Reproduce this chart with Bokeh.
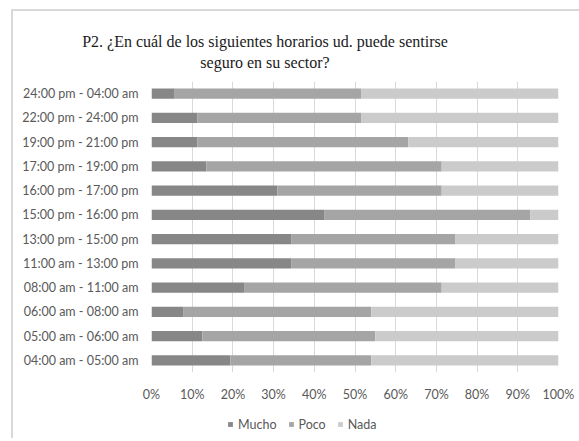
from bokeh.plotting import figure
from bokeh.layouts import column
from bokeh.models import (FactorRange, Range1d, FixedTicker, PrintfTickFormatter,
                          Legend, LegendItem, Div)
from bokeh.embed import file_html
from bokeh.resources import INLINE

# ---- data (bottom to top) ----
horarios = [
    "04:00 am - 05:00 am",
    "05:00 am - 06:00 am",
    "06:00 am - 08:00 am",
    "08:00 am - 11:00 am",
    "11:00 am - 13:00 pm",
    "13:00 pm - 15:00 pm",
    "15:00 pm - 16:00 pm",
    "16:00 pm - 17:00 pm",
    "17:00 pm - 19:00 pm",
    "19:00 pm - 21:00 pm",
    "22:00 pm - 24:00 pm",
    "24:00 pm - 04:00 am",
]
mucho = [19.4, 12.5, 7.9, 22.9, 34.3, 34.3, 42.4, 30.9, 13.5, 11.3, 11.3, 5.7]
poco = [34.6, 42.5, 46.1, 48.4, 40.4, 40.4, 50.7, 40.4, 57.8, 51.8, 40.3, 45.9]
nada = [46.0, 45.0, 46.0, 28.7, 25.3, 25.3, 6.9, 28.7, 28.7, 36.9, 48.4, 48.4]
series = ["Mucho", "Poco", "Nada"]
colors = ["#878787", "#a5a5a5", "#cbcbcb"]
x_ticks = [0, 10, 20, 30, 40, 50, 60, 70, 80, 90, 100]
title_lines = ["P2. ¿En cuál de los siguientes horarios ud. puede sentirse",
               "seguro en su sector?"]

FONT = "Lato"
GREY = "#595959"
FS = "12.5px"

# ---- title: centred two-line block ----
title_html = (
    '<div style="font-family:\'Liberation Serif\',\'Times New Roman\',serif;'
    'font-size:16px;line-height:21px;color:#1a1a1a;text-align:center;'
    'width:504px;padding-top:20px;white-space:nowrap;">'
    + title_lines[0] + "<br>" + title_lines[1] + "</div>"
)
div = Div(text=title_html, width=566, height=62, margin=(0, 0, 0, 0))

# ---- chart ----
p = figure(width=566, height=331, output_backend="svg", toolbar_location=None,
           y_range=FactorRange(factors=horarios, range_padding=0),
           x_range=Range1d(0, 100),
           min_border_left=138, min_border_right=21,
           min_border_top=8, min_border_bottom=30, margin=(0, 0, 0, 0))
p.outline_line_color = None
p.background_fill_color = "white"
p.border_fill_color = "white"

src = {"horarios": horarios, "Mucho": mucho, "Poco": poco, "Nada": nada}
p.hbar_stack(series, y="horarios", height=0.42, color=colors,
             line_color=None, source=src)

p.xaxis.ticker = FixedTicker(ticks=x_ticks)
p.xaxis.formatter = PrintfTickFormatter(format="%d%%")
p.xaxis.axis_line_color = None
p.xaxis.major_tick_line_color = None
p.xaxis.minor_tick_line_color = None
p.xaxis.major_tick_out = 0
p.xaxis.major_tick_in = 0
p.xaxis.minor_tick_out = 0
p.xaxis.major_label_text_font = FONT
p.xaxis.major_label_text_font_size = FS
p.xaxis.major_label_text_color = GREY
p.xaxis.major_label_standoff = 14

p.yaxis.axis_line_color = None
p.yaxis.major_tick_line_color = None
p.yaxis.minor_tick_line_color = None
p.yaxis.major_tick_out = 0
p.yaxis.major_tick_in = 0
p.yaxis.minor_tick_out = 0
p.yaxis.major_label_text_font = FONT
p.yaxis.major_label_text_font_size = FS
p.yaxis.major_label_text_color = GREY
p.yaxis.major_label_standoff = 13

p.ygrid.grid_line_color = None
p.xgrid.grid_line_color = "#d9d9d9"
p.xgrid.grid_line_width = 1

# ---- legend strip below the chart (swatch proxies lie outside its view) ----
pl = figure(width=566, height=34, output_backend="svg", toolbar_location=None,
            x_axis_type=None, y_axis_type=None,
            x_range=Range1d(0, 1), y_range=Range1d(0, 1),
            min_border_left=0, min_border_right=0, min_border_top=0,
            min_border_bottom=0, margin=(0, 0, 0, 0))
pl.outline_line_color = None
pl.background_fill_color = "white"
pl.border_fill_color = "white"
pl.grid.visible = False
swatches = [pl.hbar(y=[-5], left=[0], right=[1], height=0.5, color=c,
                    line_color=None)
            for c in colors]
items = [LegendItem(label=s, renderers=[r]) for s, r in zip(series, swatches)]
legend = Legend(items=items, orientation="horizontal", location=(76, 6),
                glyph_width=6, glyph_height=6, label_standoff=5, spacing=11,
                padding=0, margin=0, border_line_color=None,
                background_fill_alpha=0,
                label_text_font=FONT, label_text_font_size=FS,
                label_text_color=GREY, label_height=16)
pl.add_layout(legend, "center")

layout = column(div, p, pl, spacing=0, margin=(9, 0, 0, 11),
                styles={"border-left": "2px solid #d9d9d9",
                        "border-top": "2px solid #d9d9d9"})

open("out.html", "w").write(file_html(layout, INLINE))
